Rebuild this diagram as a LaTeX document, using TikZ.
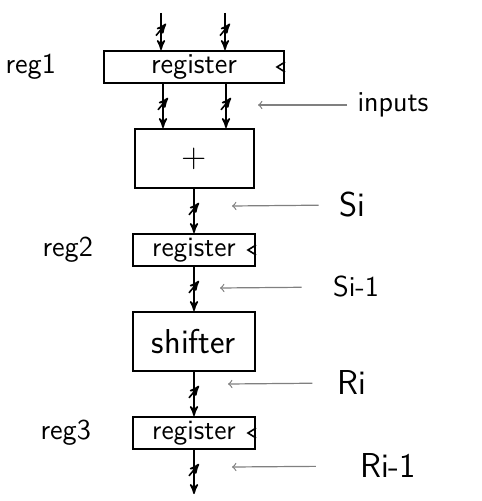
\documentclass[tikz,border=0pt]{standalone}
\usetikzlibrary{positioning, arrows, decorations.markings}
\tikzset{
>=stealth', % bold heads on the data path
node distance=22pt, % gap between the stacked blocks
every node/.style={font=\sffamily},
block/.style={draw, line width=1pt, minimum width=61pt, minimum height=29.5pt, font=\sffamily\LARGE}, % adder, shifter
register/.style={draw, line width=1pt, minimum width=61pt, minimum height=16pt, inner sep=0pt, font=\sffamily\fontsize{14}{16}\selectfont},
tag/.style={font=\sffamily\Large}, % names left of the registers
signal/.style={font=\sffamily\LARGE, inner sep=0pt}, % names on the right
bus/.style={->, thick, postaction={decorate, decoration={markings,
  mark=at position 0.45 with {\draw[thick] (3pt,-2.5pt) -- (-3pt,2.5pt);}}}},
note/.style={->, >=to, gray, semithick},
}
\newcommand{\clockmark}[1]{\draw[thick] ([yshift=2.5pt]#1.east) -- ++(-4pt,-2.5pt) -- ++(4pt,-2.5pt);}

\begin{document}
\begin{tikzpicture}[x=0.5pt, y=0.5pt]
\useasboundingbox (0,0) rectangle (481,-501);
% data path
\node[register, minimum width=90pt, font=\sffamily\Large] (reg1) at (194,-67) {register};
\node[block, minimum width=59.5pt, below=of reg1] (adder) {+};
\node[register, below=of adder] (reg2) {register};
\node[block, below=of reg2] (shifter) {shifter};
\node[register, below=of shifter] (reg3) {register};
\coordinate[below=of reg3] (out);
\coordinate (in1) at ([xshift=-16.5pt, yshift=18.5pt]reg1.north);
\coordinate (in2) at ([xshift=15.5pt, yshift=18.5pt]reg1.north);
\clockmark{reg1}
\clockmark{reg2}
\clockmark{reg3}
\draw[bus] (in1) -- (in1 |- reg1.north);
\draw[bus] (in2) -- (in2 |- reg1.north);
\draw[bus] ([xshift=-15.5pt]reg1.south) -- ([xshift=-15.5pt]reg1.south |- adder.north);
\draw[bus] ([xshift=16pt]reg1.south) -- ([xshift=16pt]reg1.south |- adder.north);
\draw[bus] (adder) -- (reg2);
\draw[bus] (reg2) -- (shifter);
\draw[bus] (shifter) -- (reg3);
\draw[bus] (reg3) -- (out);
% register names
\node[tag, left=20pt of reg1] (name1) {reg1};
\node[tag, left=16pt of reg2] (name2) {reg2};
\node[tag, left=17pt of reg3] (name3) {reg3};
% signal names
\node[signal, font=\sffamily\Large] (inputs) at (393,-105) {inputs};
\node[signal] (si) at (352,-205) {Si};
\node[signal, font=\sffamily\Large] (sprev) at (356,-287) {Si-1};
\node[signal] (ri) at (352,-383) {Ri};
\node[signal] (rprev) at (388,-466) {Ri-1};
\coordinate (inputsTip) at (258,-105);
\coordinate (siTip) at (232,-206);
\coordinate (sprevTip) at (220,-288);
\coordinate (riTip) at (228,-384);
\coordinate (rprevTip) at (232,-467);
\draw[note, shorten <=5pt] (inputs.west) -- (inputsTip);
\draw[note, shorten <=10pt] (si.west) -- (siTip);
\draw[note, shorten <=15.5pt] (sprev.west) -- (sprevTip);
\draw[note, shorten <=12.5pt] (ri.west) -- (riTip);
\draw[note, shorten <=22pt] (rprev.west) -- (rprevTip);
\end{tikzpicture}
\end{document}
